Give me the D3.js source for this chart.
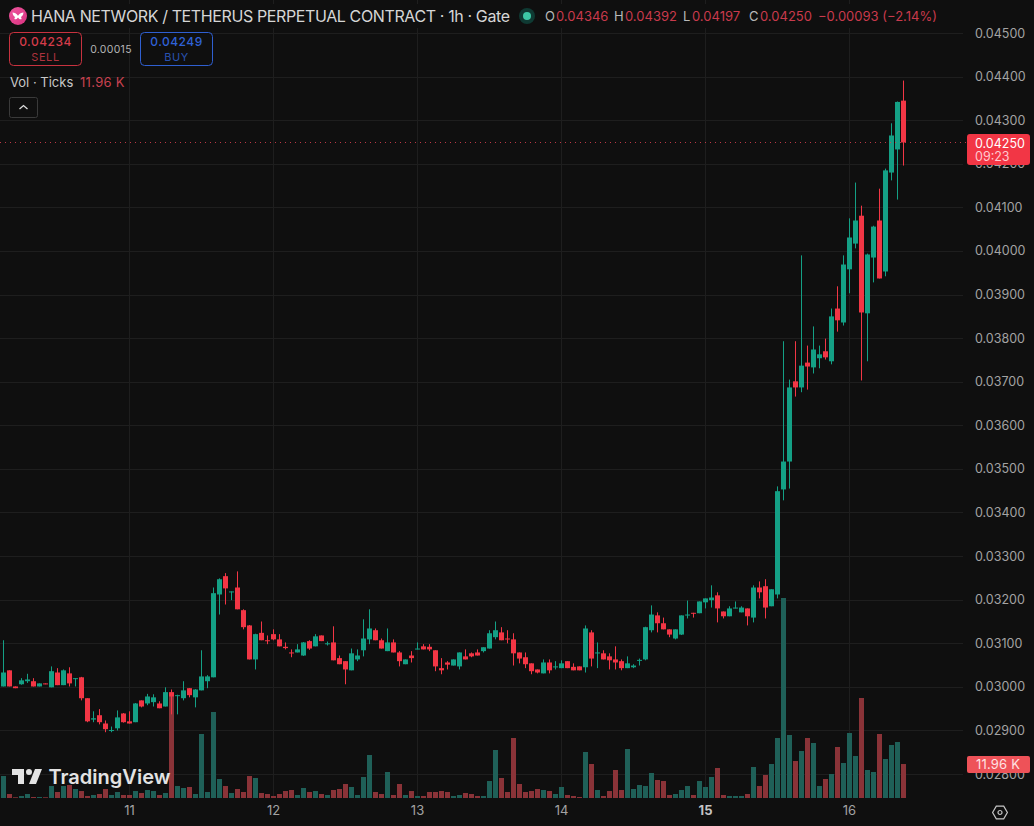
<!DOCTYPE html>
<html>
<head>
<meta charset="utf-8">
<script src="https://cdn.jsdelivr.net/npm/d3@7"></script>
<style>
html,body{margin:0;padding:0;background:#0f0f0f;overflow:hidden}
svg{display:block}
text{font-family:Inter,Roboto,"Noto Sans",sans-serif}
</style>
</head>
<body>
<div id="chart"></div>
<script>
// Hourly OHLC candles, oldest first
const opens = [
0.03002,0.03039,0.03002,0.03007,0.03014,0.03014,0.03002,0.03009,0.03000,0.03034,
0.03005,0.03032,0.03020,0.03023,0.02975,0.02926,0.02936,0.02917,0.02900,0.02906,
0.02940,0.02922,0.02920,0.02970,0.02963,0.02966,0.02963,0.02956,0.02989,0.02980,
0.02975,0.02998,0.02977,0.02993,0.03014,0.03023,0.03213,0.03255,0.03218,0.03229,
0.03177,0.03142,0.03064,0.03125,0.03108,0.03122,0.03110,0.03093,0.03080,0.03080,
0.03073,0.03106,0.03094,0.03119,0.03099,0.03103,0.03067,0.03060,0.03039,0.03064,
0.03085,0.03110,0.03131,0.03108,0.03083,0.03103,0.03080,0.03053,0.03073,0.03087,
0.03094,0.03093,0.03085,0.03044,0.03057,0.03050,0.03048,0.03071,0.03078,0.03080,
0.03083,0.03089,0.03115,0.03126,0.03112,0.03110,0.03080,0.03069,0.03055,0.03041,
0.03032,0.03057,0.03046,0.03044,0.03060,0.03047,0.03048,0.03046,0.03126,0.03079,
0.03078,0.03071,0.03064,0.03060,0.03044,0.03046,0.03061,0.03064,0.03131,0.03165,
0.03147,0.03133,0.03112,0.03121,0.03165,0.03171,0.03170,0.03195,0.03200,0.03211,
0.03174,0.03163,0.03181,0.03172,0.03181,0.03160,0.03229,0.03232,0.03186,0.03213,
0.03454,0.03518,0.03702,0.03688,0.03745,0.03734,0.03755,0.03771,0.03748,0.03869,
0.03837,0.03959,0.04018,0.04082,0.03858,0.03986,0.04071,0.03954,0.04181,0.04234,0.04346];
const highs = [
0.03108,0.03039,0.03002,0.03021,0.03031,0.03021,0.03009,0.03009,0.03048,0.03044,
0.03041,0.03046,0.03021,0.03024,0.02975,0.02945,0.02950,0.02924,0.02910,0.02947,
0.02941,0.02945,0.02964,0.02970,0.02985,0.02984,0.02968,0.03000,0.02995,0.02983,
0.03014,0.02998,0.02996,0.03085,0.03028,0.03229,0.03250,0.03262,0.03220,0.03266,
0.03179,0.03143,0.03123,0.03151,0.03119,0.03133,0.03122,0.03103,0.03087,0.03099,
0.03104,0.03108,0.03122,0.03119,0.03105,0.03140,0.03073,0.03060,0.03089,0.03087,
0.03156,0.03179,0.03135,0.03112,0.03135,0.03110,0.03083,0.03064,0.03083,0.03103,
0.03099,0.03099,0.03085,0.03067,0.03060,0.03064,0.03080,0.03087,0.03080,0.03087,
0.03092,0.03131,0.03151,0.03138,0.03131,0.03124,0.03080,0.03080,0.03055,0.03041,
0.03064,0.03064,0.03060,0.03062,0.03060,0.03055,0.03048,0.03142,0.03131,0.03103,
0.03085,0.03078,0.03094,0.03064,0.03071,0.03053,0.03066,0.03139,0.03188,0.03172,
0.03160,0.03133,0.03133,0.03165,0.03199,0.03171,0.03197,0.03204,0.03234,0.03218,
0.03174,0.03186,0.03197,0.03186,0.03181,0.03234,0.03243,0.03248,0.03225,0.03461,
0.03794,0.03706,0.03794,0.03991,0.03784,0.03828,0.03784,0.03800,0.03869,0.03920,
0.03991,0.04076,0.04158,0.04105,0.03995,0.04059,0.04144,0.04190,0.04294,0.04344,0.04392];
const lows = [
0.03002,0.03002,0.02998,0.03006,0.03010,0.03002,0.03002,0.03007,0.03000,0.03005,
0.03005,0.03002,0.03002,0.02970,0.02920,0.02920,0.02915,0.02897,0.02897,0.02901,
0.02919,0.02917,0.02920,0.02954,0.02959,0.02956,0.02952,0.02956,0.02938,0.02938,
0.02970,0.02977,0.02954,0.02993,0.02998,0.03023,0.03167,0.03190,0.03200,0.03179,
0.03133,0.03064,0.03041,0.03108,0.03099,0.03108,0.03094,0.03087,0.03069,0.03080,
0.03072,0.03086,0.03094,0.03106,0.03096,0.03062,0.03053,0.03007,0.03039,0.03060,
0.03071,0.03099,0.03108,0.03089,0.03083,0.03080,0.03048,0.03053,0.03057,0.03087,
0.03087,0.03083,0.03037,0.03030,0.03041,0.03050,0.03041,0.03064,0.03069,0.03073,
0.03080,0.03089,0.03110,0.03108,0.03101,0.03050,0.03055,0.03044,0.03030,0.03032,
0.03032,0.03032,0.03041,0.03044,0.03044,0.03039,0.03039,0.03034,0.03048,0.03044,
0.03064,0.03041,0.03041,0.03039,0.03044,0.03044,0.03050,0.03062,0.03126,0.03126,
0.03133,0.03115,0.03110,0.03120,0.03158,0.03160,0.03170,0.03181,0.03183,0.03149,
0.03158,0.03163,0.03181,0.03172,0.03142,0.03149,0.03204,0.03158,0.03186,0.03204,
0.03429,0.03456,0.03667,0.03677,0.03683,0.03720,0.03732,0.03752,0.03741,0.03816,
0.03830,0.03904,0.04007,0.03704,0.03748,0.03929,0.03938,0.03943,0.04163,0.04119,0.04197];
const closes = [
0.03034,0.03002,0.02998,0.03016,0.03018,0.03002,0.03009,0.03007,0.03037,0.03005,
0.03039,0.03009,0.03021,0.02975,0.02922,0.02929,0.02920,0.02904,0.02902,0.02931,
0.02920,0.02917,0.02963,0.02956,0.02979,0.02977,0.02952,0.02989,0.02979,0.02982,
0.02993,0.02982,0.02995,0.03025,0.03025,0.03216,0.03248,0.03227,0.03220,0.03179,
0.03138,0.03064,0.03122,0.03108,0.03106,0.03110,0.03094,0.03090,0.03078,0.03087,
0.03103,0.03089,0.03117,0.03106,0.03101,0.03062,0.03053,0.03041,0.03078,0.03073,
0.03112,0.03135,0.03108,0.03089,0.03103,0.03080,0.03060,0.03064,0.03067,0.03089,
0.03087,0.03087,0.03048,0.03039,0.03052,0.03064,0.03080,0.03064,0.03071,0.03073,
0.03092,0.03124,0.03131,0.03108,0.03110,0.03078,0.03066,0.03053,0.03037,0.03034,
0.03057,0.03039,0.03048,0.03055,0.03044,0.03039,0.03039,0.03135,0.03066,0.03080,
0.03064,0.03062,0.03057,0.03044,0.03055,0.03050,0.03063,0.03138,0.03167,0.03147,
0.03133,0.03121,0.03133,0.03165,0.03167,0.03170,0.03197,0.03204,0.03206,0.03181,
0.03163,0.03181,0.03183,0.03183,0.03163,0.03229,0.03218,0.03183,0.03225,0.03450,
0.03518,0.03688,0.03688,0.03738,0.03736,0.03775,0.03764,0.03757,0.03851,0.03842,
0.03970,0.04032,0.04071,0.03860,0.03993,0.04057,0.03938,0.04186,0.04266,0.04343,0.04250];
// Tick volume per candle, in thousands
const volumes = [
7.74,1.41,0.25,0.70,1.41,0.35,0.35,0.25,4.22,2.11,
4.22,4.58,3.17,2.46,0.70,1.06,1.41,3.17,1.06,2.11,
1.06,1.06,2.46,1.76,2.82,2.46,1.06,1.76,36.96,4.22,
3.52,3.87,1.41,22.53,2.11,30.27,6.69,4.22,1.76,3.17,
2.11,7.74,7.04,1.76,1.41,0.70,1.41,2.46,2.82,1.06,
3.52,2.11,2.46,1.41,1.06,2.82,3.17,4.93,3.87,1.06,
7.39,15.14,2.11,1.41,9.15,1.06,4.93,1.06,2.46,0.70,
0.70,2.11,2.11,2.46,2.11,0.70,1.06,1.76,1.41,0.70,
0.70,5.98,16.90,7.04,2.11,21.12,4.93,2.11,2.46,3.17,
2.82,2.46,1.41,3.87,1.06,0.70,0.35,16.19,11.97,2.82,
0.70,2.46,9.86,2.82,17.25,3.17,4.58,4.22,8.80,6.34,
5.98,1.06,1.41,2.82,4.22,1.06,5.98,3.87,7.39,10.56,
1.06,0.70,0.70,0.70,1.41,10.91,4.22,8.10,11.97,21.12,
70.40,22.18,13.02,16.54,21.12,19.36,4.22,6.69,8.45,17.95,
12.32,22.88,14.78,35.20,9.86,9.15,22.53,13.73,18.66,19.71,11.96];
// Price axis ticks and the candle index where each calendar day starts
const priceTicks = [0.045,0.044,0.043,0.042,0.041,0.040,0.039,0.038,0.037,0.036,0.035,0.034,0.033,0.032,0.031,0.030,0.029,0.028];
const dayIndex = [21,45,69,93,117,141];
const dayLabels = ["11","12","13","14","15","16"];
const boldDay = "15";
// Title bar text and order ticket quotes
const titleText = "HANA NETWORK / TETHERUS PERPETUAL CONTRACT · 1h · Gate";
const sellQuote = "0.04234", buyQuote = "0.04249", spreadQuote = "0.00015";
const countdown = "09:23";

const W = 1034, H = 826;
const BG = "#0f0f0f", GRID = "#1e1e1e", UP = "#14a085", DOWN = "#f23645";
const VOL_UP = "#1f6058", VOL_DOWN = "#8a3338";
const AXIS_TEXT = "#a3a3a3", PLOT_RIGHT = 963, AXIS_LEFT = 967;

const n = opens.length;
const last = n - 1;
const fmt = d3.format(".5f");
const x = d3.scaleLinear().domain([0, last]).range([3.5, 3.5 + 6 * last]);
const y = d3.scaleLinear().domain([0.028, 0.045]).range([774.5, 33.5]);
const yVol = d3.scaleLinear().domain([0, 70.4]).range([798, 598]);

const svg = d3.select("#chart").append("svg")
  .attr("width", W).attr("height", H).attr("viewBox", [0, 0, W, H]);
svg.append("rect").attr("width", W).attr("height", H).attr("fill", BG);

// Grid
const grid = svg.append("g").attr("stroke", GRID).attr("stroke-width", 1).attr("shape-rendering", "crispEdges");
grid.selectAll(".h").data(priceTicks).join("line").attr("class", "h")
  .attr("x1", 0).attr("x2", PLOT_RIGHT).attr("y1", d => Math.floor(y(d)) + 0.5).attr("y2", d => Math.floor(y(d)) + 0.5);
grid.selectAll(".v").data(dayIndex).join("line").attr("class", "v")
  .attr("x1", d => x(d)).attr("x2", d => x(d)).attr("y1", 0).attr("y2", 798);

// Volume bars
const idx = d3.range(n);
const isUp = i => closes[i] >= opens[i];
svg.append("g").selectAll("rect").data(idx).join("rect")
  .attr("x", i => x(i) - 2.5).attr("width", 5)
  .attr("y", i => yVol(volumes[i]))
  .attr("height", i => yVol(0) - yVol(volumes[i]))
  .attr("fill", i => isUp(i) ? VOL_UP : VOL_DOWN);

// Candles: wick, then body
const candles = svg.append("g");
candles.selectAll("line").data(idx).join("line")
  .attr("x1", i => x(i)).attr("x2", i => x(i))
  .attr("y1", i => y(highs[i])).attr("y2", i => y(lows[i]))
  .attr("stroke", i => isUp(i) ? UP : DOWN).attr("stroke-width", 1);
candles.selectAll("rect").data(idx).join("rect")
  .attr("x", i => x(i) - 2.5).attr("width", 5)
  .attr("y", i => y(Math.max(opens[i], closes[i])))
  .attr("height", i => Math.max(1, Math.abs(y(opens[i]) - y(closes[i]))))
  .attr("fill", i => isUp(i) ? UP : DOWN);

// Last price line
svg.append("line").attr("x1", 0).attr("x2", AXIS_LEFT)
  .attr("y1", Math.round(y(closes[last])) + 0.5).attr("y2", Math.round(y(closes[last])) + 0.5)
  .attr("stroke", "#d9414f").attr("stroke-dasharray", "1 4").attr("opacity", 0.85);

// TradingView mark
const mark = svg.append("g").attr("fill", "#e3e3e3");
mark.append("path").attr("transform", "translate(10,763)")
  .attr("d", "M14 6H2v6h6v9h6V6Zm12 15h-7l6-15h7l-6 15Zm-7-9a3 3 0 1 0 0-6 3 3 0 0 0 0 6Z");
mark.append("text").attr("x", 48.5).attr("y", 784).attr("font-size", 20).attr("font-weight", 600)
  .attr("textLength", 122).text("TradingView");

// Axes
const axisY = d3.axisRight(y).tickValues(priceTicks).tickFormat(fmt).tickSize(0).tickPadding(8).offset(0);
const gy = svg.append("g").attr("transform", `translate(${AXIS_LEFT},0)`).call(axisY);
gy.select(".domain").remove();
gy.selectAll("text").attr("fill", AXIS_TEXT).attr("font-size", 12.5)
  .style("font-family", "Inter,Roboto,sans-serif");

const axisX = d3.axisBottom(x).tickValues(dayIndex).tickFormat((d, i) => dayLabels[i]).tickSize(0).tickPadding(8).offset(0);
const gx = svg.append("g").attr("transform", "translate(0,798)").call(axisX);
gx.select(".domain").remove();
gx.selectAll("text").attr("fill", AXIS_TEXT).attr("font-size", 13)
  .style("font-family", "Inter,Roboto,sans-serif")
  .attr("font-weight", (d, i) => dayLabels[i] === boldDay ? 700 : 400)
  .attr("fill", (d, i) => dayLabels[i] === boldDay ? "#c4c4c4" : AXIS_TEXT);

// Last price tag with countdown
const tag = svg.append("g");
tag.append("rect").attr("x", 967).attr("y", 134).attr("width", 63).attr("height", 31).attr("rx", 3).attr("fill", "#f23645");
tag.append("text").attr("x", 975).attr("y", 147.5).attr("font-size", 12.5).attr("fill", "#ffffff").text(fmt(closes[last]));
tag.append("text").attr("x", 975).attr("y", 161).attr("font-size", 12.5).attr("fill", "#ffc9cf").text(countdown);

// Volume tag
const volText = volumes[last].toFixed(2) + " K";
const vtag = svg.append("g");
vtag.append("rect").attr("x", 967).attr("y", 756).attr("width", 63).attr("height", 17).attr("rx", 2).attr("fill", "#ee5258");
vtag.append("text").attr("x", 976).attr("y", 769).attr("font-size", 13).attr("letter-spacing", "0.2px").attr("fill", "#ffe3e3").text(volText);

// Settings glyph
const gear = svg.append("g").attr("transform", "translate(1000,812.5)").attr("fill", "none").attr("stroke", "#c6c6c6").attr("stroke-width", 1.2);
gear.append("path").attr("d", d3.range(6).map(k => {
  const a = Math.PI / 3 * k;
  return (k ? "L" : "M") + (7.4 * Math.cos(a)).toFixed(2) + " " + (7.4 * Math.sin(a)).toFixed(2);
}).join("") + "Z");
gear.append("circle").attr("r", 2);

// Title row sits on a plain strip above the grid
svg.append("rect").attr("x", 0).attr("y", 4).attr("width", 950).attr("height", 24).attr("fill", BG);
const defs = svg.append("defs");
const grad = defs.append("linearGradient").attr("id", "hanaCoin").attr("x1", 0).attr("y1", 0).attr("x2", 1).attr("y2", 1);
grad.append("stop").attr("offset", 0).attr("stop-color", "#f0569f");
grad.append("stop").attr("offset", 1).attr("stop-color", "#d8327f");
svg.append("circle").attr("cx", 18).attr("cy", 16).attr("r", 9).attr("fill", "url(#hanaCoin)");
svg.append("path").attr("fill", "#fff")
  .attr("d", "M12.5 12.5c2 0 4 1.2 5.5 3.2 1.5-2 3.5-3.2 5.500-3.200-.3 2.500-1.300 4-2.800 4.500.8.500 1 1.300.7 2.200-1 .5-2.400-.1-3.400-1.700-1 1.600-2.400 2.200-3.400 1.700-.3-.9-.1-1.700.7-2.200-1.500-.5-2.500-2-2.800-4.500Z");
svg.append("text").attr("x", 31).attr("y", 21.5).attr("font-size", 16).attr("fill", "#d6d6d6").attr("textLength", 479).text(titleText);

// Market status dot
svg.append("circle").attr("cx", 527).attr("cy", 16).attr("r", 8).attr("fill", "#0f3a33");
svg.append("circle").attr("cx", 527).attr("cy", 16).attr("r", 4).attr("fill", "#3cc9a6");

// OHLC readout for the latest candle
const LABEL = "#b9b9b9", VALUE = "#c93a4c";
const change = closes[last] - closes[last - 1];
const pct = change / closes[last - 1] * 100;
const readout = [
  ["O", 545, opens[last], 556], ["H", 614, highs[last], 625],
  ["L", 683, lows[last], 692], ["C", 749, closes[last], 760]
];
const ro = svg.append("g").attr("font-size", 13);
readout.forEach(([k, lx, v, vx]) => {
  ro.append("text").attr("x", lx).attr("y", 21).attr("fill", LABEL).text(k);
  ro.append("text").attr("x", vx).attr("y", 21).attr("fill", VALUE).text(fmt(v));
});
ro.append("text").attr("x", 818).attr("y", 21).attr("fill", VALUE)
  .text(`−${fmt(Math.abs(change))} (−${Math.abs(pct).toFixed(2)}%)`);

// Sell and buy buttons
function ticket(left, color, textColor, quote, caption) {
  const g = svg.append("g");
  g.append("rect").attr("x", left + 0.5).attr("y", 32.5).attr("width", 72).attr("height", 33).attr("rx", 4)
    .attr("fill", BG).attr("stroke", color);
  g.append("text").attr("x", left + 36.5).attr("y", 46).attr("text-anchor", "middle").attr("font-size", 12).attr("font-weight", 500)
    .attr("letter-spacing", "0.5px").attr("fill", textColor).text(quote);
  g.append("text").attr("x", left + 36.5).attr("y", 60.5).attr("text-anchor", "middle").attr("font-size", 11)
    .attr("letter-spacing", "0.6px").attr("fill", textColor).attr("opacity", 0.8).text(caption);
}
ticket(9, "#c8323f", "#d63c4a", sellQuote, "SELL");
ticket(140, "#2f5fd0", "#2f62d8", buyQuote, "BUY");
svg.append("text").attr("x", 111).attr("y", 53).attr("text-anchor", "middle").attr("font-size", 10.5)
  .attr("letter-spacing", "0.3px").attr("fill", "#b5b5b5").text(spreadQuote);

// Volume study legend and collapse button
svg.append("text").attr("x", 10).attr("y", 87).attr("font-size", 13).attr("fill", "#c8c8c8").text("Vol · Ticks");
svg.append("text").attr("x", 80).attr("y", 87).attr("font-size", 13).attr("letter-spacing", "0.3px").attr("fill", "#c9424f").text(volText);
svg.append("rect").attr("x", 9.5).attr("y", 97.5).attr("width", 28).attr("height", 20).attr("rx", 2).attr("fill", BG).attr("stroke", "#3a3a3a");
svg.append("path").attr("d", "M19.500 109 L23.500 105.500 L27.500 109").attr("fill", "none").attr("stroke", "#dcdcdc").attr("stroke-width", 1.3);
</script>
</body>
</html>
